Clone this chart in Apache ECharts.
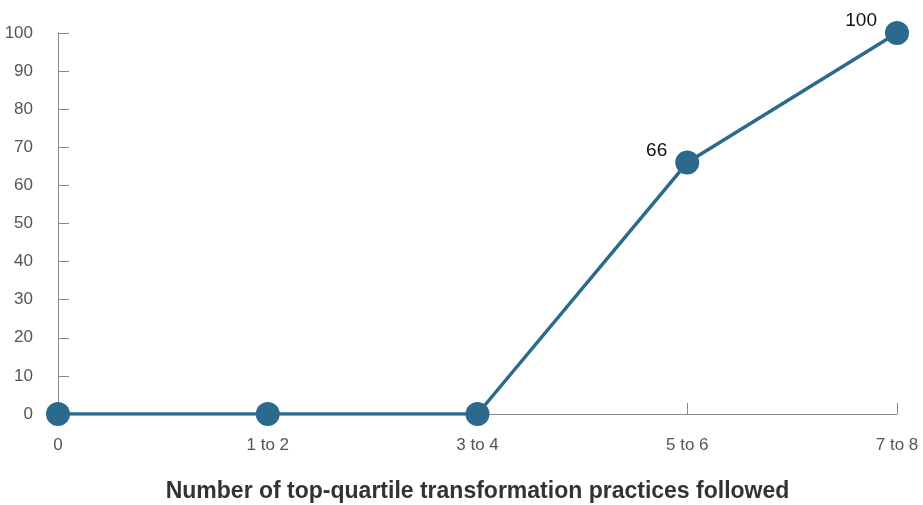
<!DOCTYPE html>
<html>
<head>
<meta charset="utf-8">
<script src="https://cdn.jsdelivr.net/npm/echarts@6/dist/echarts.min.js"></script>
<style>
  html, body { margin: 0; padding: 0; background: #fff; }
  #chart { width: 923px; height: 505px; }
</style>
</head>
<body>
<div id="chart"></div>
<script>
var categories = ["0", "1 to 2", "3 to 4", "5 to 6", "7 to 8"];
var values = [0, 0, 0, 66, 100];
var yTicks = { min: 0, max: 100, step: 10 };
var xTitle = "Number of top-quartile transformation practices followed";

var font = "'Liberation Sans', Arial, Helvetica, sans-serif";
var lineColor = "#2b6a8d";

var chart = echarts.init(document.getElementById("chart"));

chart.setOption({
    animation: false,
    grid: { left: 58, right: 26, top: 33, bottom: 91, outerBoundsMode: "none", containLabel: false },
    xAxis: {
        type: "category",
        data: categories,
        boundaryGap: false,
        name: xTitle,
        nameLocation: "middle",
        nameGap: 66,
        nameTextStyle: { fontFamily: font, fontSize: 23, color: "#333", fontWeight: "bold" },
        axisLine: { lineStyle: { color: "#8a8a8a", width: 1 } },
        axisTick: { inside: true, length: 11, lineStyle: { color: "#8a8a8a" } },
        axisLabel: { fontFamily: font, fontSize: 17, color: "#555", margin: 23 },
        splitLine: { show: false }
    },
    yAxis: {
        type: "value",
        min: yTicks.min,
        max: yTicks.max,
        interval: yTicks.step,
        axisLine: { show: true, lineStyle: { color: "#8a8a8a", width: 1 } },
        axisTick: { show: true, inside: true, length: 11, lineStyle: { color: "#8a8a8a" } },
        axisLabel: { fontFamily: font, fontSize: 17, color: "#555", margin: 25 },
        splitLine: { show: false }
    },
    series: [{
        type: "line",
        data: values,
        symbol: "circle",
        symbolSize: 24,
        itemStyle: { color: lineColor },
        lineStyle: { color: lineColor, width: 3.5 },
        label: {
            show: true,
            position: "left",
            distance: 8,
            offset: [0, -12],
            fontFamily: font,
            fontSize: 19,
            color: "#111",
            formatter: function (p) { return p.value ? String(p.value) : ""; }
        },
        z: 3
    }]
});
</script>
</body>
</html>
